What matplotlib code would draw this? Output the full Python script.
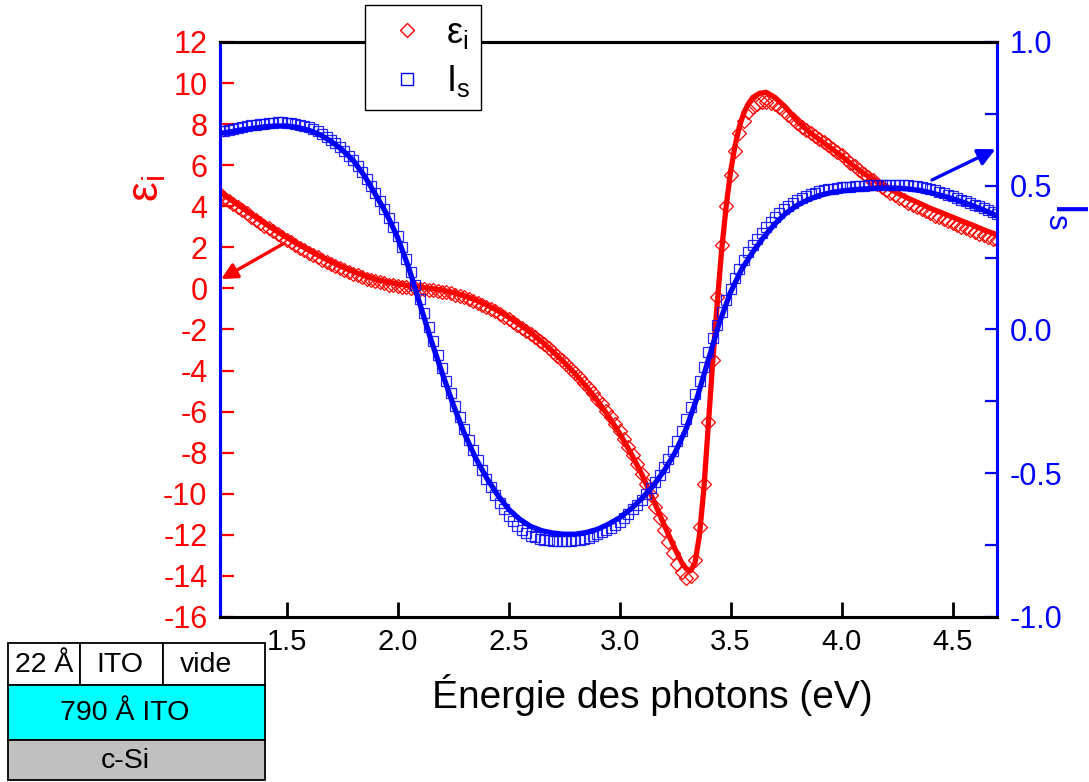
import matplotlib
import numpy as np

matplotlib.use("Agg")
import matplotlib.pyplot as plt  # noqa: E402
from matplotlib.lines import Line2D  # noqa: E402
from matplotlib.patches import Rectangle  # noqa: E402

plt.rcParams["font.family"] = ["Liberation Sans", "DejaVu Sans"]
plt.rcParams["mathtext.fontset"] = "custom"
plt.rcParams["mathtext.rm"] = "Liberation Sans"
plt.rcParams["mathtext.it"] = "Liberation Sans"
plt.rcParams["axes.unicode_minus"] = False

# Measured points, one every 0.02 eV from 1.20 to 4.70 eV.
energy = np.round(np.arange(1.20, 4.701, 0.02), 2)
eps_i_data = [
    4.58, 4.42, 4.26, 4.10, 3.95, 3.80, 3.65, 3.50, 3.35, 3.20,
    3.06, 2.92, 2.78, 2.64, 2.50, 2.37, 2.24, 2.11, 1.98, 1.86,
    1.74, 1.62, 1.51, 1.40, 1.29, 1.18, 1.08, 0.98, 0.89, 0.80,
    0.71, 0.63, 0.55, 0.48, 0.41, 0.35, 0.29, 0.24, 0.19, 0.15,
    0.12, 0.08, 0.05, 0.02, 0.00, -0.02, -0.04, -0.06, -0.09, -0.12,
    -0.15, -0.19, -0.24, -0.30, -0.37, -0.44, -0.52, -0.61, -0.70, -0.80,
    -0.90, -1.01, -1.12, -1.24, -1.37, -1.50, -1.63, -1.77, -1.91, -2.06,
    -2.22, -2.38, -2.55, -2.72, -2.90, -3.09, -3.28, -3.48, -3.69, -3.90,
    -4.12, -4.35, -4.59, -4.84, -5.10, -5.37, -5.65, -5.95, -6.26, -6.59,
    -6.94, -7.31, -7.70, -8.11, -8.55, -9.02, -9.52, -10.05, -10.62, -11.20,
    -11.78, -12.35, -12.90, -13.40, -13.80, -14.10, -14.00, -13.20, -11.60, -9.50,
    -6.50, -3.50, -0.40, 2.10, 4.00, 5.50, 6.70, 7.55, 8.15, 8.60,
    8.85, 9.00, 9.08, 9.10, 9.05, 8.97, 8.83, 8.65, 8.45, 8.25,
    8.05, 7.88, 7.72, 7.57, 7.42, 7.27, 7.12, 6.97, 6.81, 6.65,
    6.48, 6.31, 6.13, 5.95, 5.77, 5.59, 5.42, 5.26, 5.10, 4.95,
    4.80, 4.66, 4.53, 4.41, 4.29, 4.18, 4.07, 3.96, 3.85, 3.75,
    3.65, 3.55, 3.46, 3.37, 3.28, 3.19, 3.10, 3.01, 2.92, 2.83,
    2.75, 2.67, 2.59, 2.51, 2.43, 2.36,
]
i_s_data = [
    0.690, 0.692, 0.695, 0.698, 0.701, 0.704, 0.707, 0.710, 0.712, 0.714,
    0.716, 0.718, 0.719, 0.720, 0.720, 0.719, 0.718, 0.715, 0.712, 0.708,
    0.703, 0.697, 0.690, 0.681, 0.671, 0.660, 0.648, 0.635, 0.621, 0.605,
    0.588, 0.568, 0.547, 0.524, 0.500, 0.474, 0.447, 0.419, 0.389, 0.358,
    0.325, 0.288, 0.246, 0.201, 0.154, 0.106, 0.057, 0.008, -0.040, -0.087,
    -0.133, -0.178, -0.222, -0.265, -0.306, -0.346, -0.384, -0.420, -0.455, -0.488,
    -0.519, -0.548, -0.576, -0.602, -0.626, -0.648, -0.667, -0.684, -0.698, -0.709,
    -0.717, -0.723, -0.728, -0.731, -0.733, -0.734, -0.735, -0.735, -0.735, -0.734,
    -0.733, -0.731, -0.728, -0.724, -0.719, -0.713, -0.706, -0.698, -0.689, -0.679,
    -0.668, -0.655, -0.641, -0.626, -0.610, -0.592, -0.573, -0.552, -0.530, -0.506,
    -0.480, -0.452, -0.421, -0.388, -0.352, -0.313, -0.271, -0.226, -0.179, -0.130,
    -0.080, -0.031, 0.016, 0.061, 0.103, 0.142, 0.178, 0.211, 0.241, 0.268,
    0.293, 0.316, 0.337, 0.356, 0.374, 0.390, 0.405, 0.418, 0.430, 0.441,
    0.450, 0.458, 0.465, 0.471, 0.476, 0.480, 0.484, 0.487, 0.490, 0.492,
    0.494, 0.496, 0.497, 0.498, 0.499, 0.500, 0.501, 0.502, 0.503, 0.503,
    0.504, 0.504, 0.504, 0.504, 0.503, 0.502, 0.500, 0.498, 0.495, 0.492,
    0.488, 0.484, 0.479, 0.474, 0.469, 0.464, 0.458, 0.452, 0.446, 0.440,
    0.434, 0.428, 0.421, 0.414, 0.407, 0.400,
]

# Fitted model curves.
eps_fit_energy = [
    1.20, 1.25, 1.30, 1.35, 1.40, 1.45, 1.50, 1.55, 1.60, 1.65,
    1.70, 1.75, 1.80, 1.85, 1.90, 1.95, 2.00, 2.05, 2.10, 2.15,
    2.20, 2.25, 2.30, 2.35, 2.40, 2.45, 2.50, 2.55, 2.60, 2.65,
    2.70, 2.75, 2.80, 2.85, 2.90, 2.95, 3.00, 3.05, 3.10, 3.15,
    3.20, 3.25, 3.28, 3.30, 3.32, 3.34, 3.36, 3.38, 3.40, 3.42,
    3.44, 3.46, 3.48, 3.50, 3.52, 3.54, 3.56, 3.58, 3.60, 3.63,
    3.66, 3.70, 3.75, 3.80, 3.85, 3.90, 3.95, 4.00, 4.05, 4.10,
    4.15, 4.20, 4.25, 4.30, 4.35, 4.40, 4.45, 4.50, 4.55, 4.60,
    4.65, 4.70,
]
eps_i_fit = [
    4.70, 4.30, 3.92, 3.55, 3.18, 2.82, 2.48, 2.16, 1.86, 1.57,
    1.30, 1.05, 0.82, 0.62, 0.45, 0.32, 0.22, 0.13, 0.06, 0.00,
    -0.08, -0.20, -0.36, -0.56, -0.80, -1.08, -1.40, -1.76, -2.16, -2.60,
    -3.08, -3.60, -4.16, -4.78, -5.46, -6.22, -7.06, -8.00, -9.05, -10.25,
    -11.50, -12.70, -13.35, -13.65, -13.75, -13.35, -12.00, -9.70, -6.60, -3.50,
    -0.70, 1.90, 4.00, 5.70, 6.95, 7.90, 8.55, 9.00, 9.30, 9.50,
    9.55, 9.30, 8.80, 8.15, 7.65, 7.25, 6.85, 6.45, 6.00, 5.60,
    5.25, 4.94, 4.65, 4.39, 4.15, 3.90, 3.69, 3.47, 3.25, 3.04,
    2.81, 2.62,
]
is_fit_energy = np.round(np.arange(1.20, 4.701, 0.05), 2)
i_s_fit = [
    0.682, 0.688, 0.695, 0.700, 0.705, 0.708,
    0.708, 0.703, 0.693, 0.678, 0.655, 0.625,
    0.588, 0.535, 0.470, 0.403, 0.320, 0.215,
    0.090, -0.035, -0.150, -0.260, -0.360, -0.445,
    -0.515, -0.575, -0.625, -0.660, -0.685, -0.700,
    -0.708, -0.712, -0.712, -0.706, -0.695, -0.677,
    -0.655, -0.625, -0.588, -0.545, -0.492, -0.428,
    -0.345, -0.235, -0.105, 0.025, 0.130, 0.210,
    0.270, 0.322, 0.368, 0.405, 0.432, 0.452,
    0.466, 0.476, 0.482, 0.486, 0.489, 0.491,
    0.492, 0.492, 0.489, 0.484, 0.476, 0.466,
    0.455, 0.442, 0.428, 0.412, 0.395,
]

eps_ticks = np.arange(-16, 13, 2)
is_ticks = [-1.0, -0.5, 0.0, 0.5, 1.0]
energy_ticks = [1.5, 2.0, 2.5, 3.0, 3.5, 4.0, 4.5]

figure = plt.figure(figsize=(10.89, 7.82), dpi=100)
axes = figure.add_axes([220 / 1089, 1 - 617 / 782, 777 / 1089, 575 / 782])
axes_is = axes.twinx()

axes.plot(energy, eps_i_data, ls="none", marker="D", ms=7.2, mfc="none",
          mec="red", mew=0.9)
axes.plot(eps_fit_energy, eps_i_fit, color="red", lw=3.8)
axes_is.plot(energy, i_s_data, ls="none", marker="s", ms=7.2, mfc="none",
             mec="blue", mew=0.9, alpha=0.85)
axes_is.plot(is_fit_energy, i_s_fit, color="blue", lw=3.8)

axes.set_xlim(1.2, 4.7)
axes.set_ylim(-16, 12)
axes_is.set_ylim(-1.0, 1.0)
axes.set_xticks(energy_ticks)
axes.set_xticklabels([f"{t:.1f}" for t in energy_ticks])
axes.set_yticks(eps_ticks)
axes_is.set_yticks(is_ticks)
axes_is.set_yticklabels([f"{t:.1f}" for t in is_ticks])
axes_is.set_yticks(np.arange(-1.0, 1.01, 0.25), minor=True)

axes.tick_params(axis="x", direction="in", length=11, width=2,
                 colors="black", labelsize=21, pad=8)
axes.tick_params(axis="y", direction="in", length=10, width=1.6,
                 colors="red", labelsize=22, pad=9)
axes_is.tick_params(axis="y", which="both", direction="in", length=9,
                    width=1.6, colors="blue", labelsize=22, pad=9)

for ax in (axes, axes_is):
    for side in ("left", "right", "top", "bottom"):
        ax.spines[side].set_linewidth(2.2)
    ax.spines["left"].set_color("blue")
    ax.spines["right"].set_color("blue")
    ax.spines["top"].set_color("black")
    ax.spines["bottom"].set_color("black")

axes.annotate("", xy=(1.205, 0.45), xytext=(1.484, 2.17),
              arrowprops=dict(arrowstyle="-|>", color="red", lw=2.4,
                              mutation_scale=24, shrinkA=0, shrinkB=0))
axes_is.annotate("", xy=(4.693, 0.627), xytext=(4.407, 0.52),
                 arrowprops=dict(arrowstyle="-|>", color="blue", lw=2.4,
                                 mutation_scale=26, shrinkA=0, shrinkB=0))

figure.text(652 / 1089, 1 - 708 / 782, "Énergie des photons (eV)",
            fontsize=28, ha="center", va="baseline")
figure.text(148 / 1089, 1 - 188 / 782, r"$\mathrm{ε_i}$", fontsize=32,
            color="red", rotation=90, ha="center", va="center")
figure.text(1067 / 1089, 1 - 216 / 782, r"$\mathrm{I_s}$", fontsize=32,
            color="blue", rotation=-90, ha="center", va="center")

handles = [
    Line2D([], [], ls="none", marker="D", ms=7.5, mfc="none", mec="red",
           mew=1.0),
    Line2D([], [], ls="none", marker="s", ms=8, mfc="none", mec="blue",
           mew=1.0),
]
figure.legend(handles, [r"$\mathrm{ε_i}$", r"$\mathrm{I_s}$"],
              loc="upper left", bbox_to_anchor=(365 / 1089, 1 - 5 / 782),
              fontsize=26, frameon=True, fancybox=False, edgecolor="black",
              framealpha=1, borderpad=0.3, labelspacing=0.35,
              handletextpad=0.25, handlelength=1.7, borderaxespad=0)

# Layer stack sketch at the bottom left.
stack = figure.add_axes([8 / 1089, 1 - 780 / 782, 257 / 1089, 137 / 782])
stack.set_xlim(0, 257)
stack.set_ylim(137, 0)
stack.axis("off")
cells = [
    (0, 0, 72, 42, "white", "22 Å", 36),
    (72, 0, 83, 42, "white", "ITO", 112),
    (155, 0, 102, 42, "white", "vide", 198),
    (0, 42, 257, 55, "#00ffff", "790 Å ITO", 117),
    (0, 97, 257, 40, "#c0c0c0", "c-Si", 117),
]
for x0, y0, w, h, color, label, text_x in cells:
    stack.add_patch(Rectangle((x0, y0), w, h, facecolor=color,
                              edgecolor="black", lw=1.3, clip_on=False))
    stack.text(text_x, y0 + h / 2 + 1, label, fontsize=20.5,
               ha="center", va="center")

figure.savefig("out.png", dpi=100)
